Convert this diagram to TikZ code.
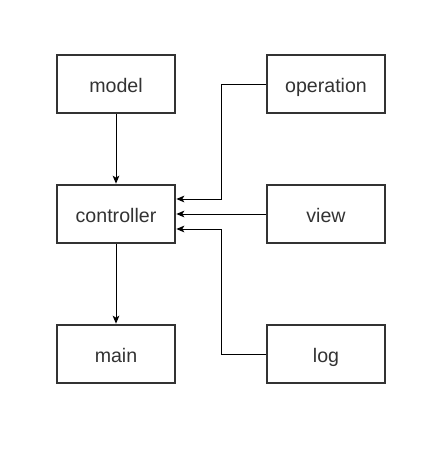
\documentclass[tikz,border=0pt]{standalone}
\usepackage{fontspec}
\setmainfont{Liberation Sans}
\usetikzlibrary{arrows.meta,calc}
\definecolor{boxline}{HTML}{333333}
\definecolor{boxtext}{HTML}{333333}
\begin{document}
\begin{tikzpicture}[x=0.75pt,y=-0.75pt,
  module/.style={draw=boxline,line width=1.5pt,fill=white,
    minimum width=89pt,minimum height=44pt,inner sep=0pt,
    text height=13.5pt,text depth=1.5pt,
    text=boxtext,font=\fontsize{14.7pt}{17pt}\selectfont},
  conn/.style={draw=black,line width=0.75pt,
    -{Stealth[length=6pt,width=5pt,inset=1.5pt]}}]
  \useasboundingbox (0,0) rectangle (432,450);
  \fill[white] (0,0) rectangle (432,450);

  % module boxes
  \node[module] (model) at (116,84) {model};
  \node[module] (operation) at (326,84) {operation};
  \node[module] (controller) at (116,214) {controller};
  \node[module] (view) at (326,214) {view};
  \node[module] (main) at (116,354) {main};
  \node[module] (log) at (326,354) {log};

  % connectors
  \draw[conn] (model) -- (controller);
  \draw[conn] (controller) -- (main);
  \draw[conn] (view) -- (controller);
  \draw[conn] (operation.west) -| ($(controller.east)+(45,-15)$)
    -- ($(controller.east)+(0,-15)$);
  \draw[conn] (log.west) -| ($(controller.east)+(45,15)$)
    -- ($(controller.east)+(0,15)$);
\end{tikzpicture}
\end{document}
